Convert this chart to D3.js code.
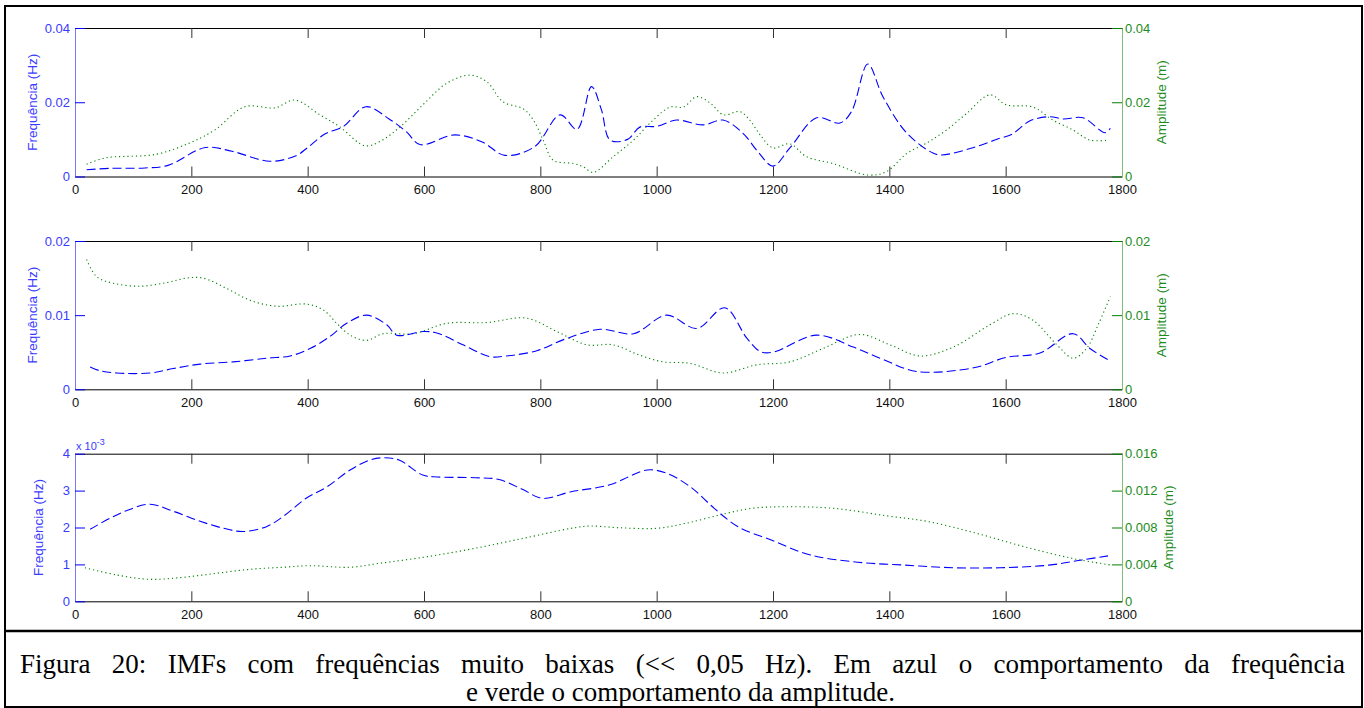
<!DOCTYPE html>
<html>
<head>
<meta charset="utf-8">
<script src="https://d3js.org/d3.v7.min.js"></script>
<style>
  body { margin: 0; background: #fff; }
  svg { display: block; }
  .tick text { font-family: "Liberation Sans", Arial, sans-serif; font-size: 13px; }
</style>
</head>
<body>
<svg id="imf-chart"></svg>
<script>
// x axis (time, s)
const X_TICKS = [0, 200, 400, 600, 800, 1000, 1200, 1400, 1600, 1800];

// IMF 1 - frequency (Hz) and amplitude (m)
const imf1FreqT = [20, 60, 120, 160, 224, 270, 335, 380, 400, 430, 461, 500, 540, 570, 593, 653, 700, 739, 790, 834, 863, 888, 905, 920, 950, 971, 1000, 1034, 1080, 1114, 1148, 1175, 1200, 1229, 1275, 1315, 1335, 1363, 1389, 1430, 1475, 1490, 1545, 1590, 1610, 1642, 1676, 1699, 1733, 1771, 1780];
const imf1FreqV = [0.0018, 0.0022, 0.0023, 0.003, 0.0078, 0.0068, 0.0041, 0.0056, 0.0078, 0.0115, 0.0134, 0.0188, 0.0155, 0.012, 0.0086, 0.0112, 0.0093, 0.0057, 0.008, 0.0166, 0.0127, 0.0242, 0.018, 0.0098, 0.01, 0.0133, 0.0135, 0.0152, 0.0139, 0.0152, 0.0117, 0.0065, 0.0028, 0.0077, 0.0158, 0.0144, 0.0175, 0.0303, 0.0215, 0.0117, 0.0063, 0.0058, 0.0078, 0.0103, 0.0113, 0.015, 0.0161, 0.0155, 0.0158, 0.0118, 0.013];
const imf1AmpT = [20, 52, 140, 198, 240, 292, 344, 378, 421, 455, 498, 524, 559, 598, 639, 679, 708, 736, 771, 788, 805, 822, 857, 874, 891, 925, 960, 994, 1023, 1046, 1069, 1092, 1115, 1143, 1160, 1178, 1200, 1229, 1258, 1303, 1363, 1395, 1430, 1464, 1498, 1533, 1573, 1601, 1647, 1681, 1716, 1745, 1776];
const imf1AmpV = [0.0033, 0.005, 0.006, 0.0091, 0.0125, 0.0188, 0.0185, 0.0206, 0.0166, 0.0134, 0.0083, 0.0094, 0.0134, 0.0193, 0.0251, 0.0273, 0.0255, 0.0201, 0.0182, 0.0152, 0.0098, 0.0044, 0.0035, 0.0026, 0.0011, 0.0053, 0.0098, 0.0152, 0.0187, 0.0187, 0.0215, 0.0198, 0.0166, 0.0175, 0.0152, 0.0112, 0.0077, 0.0088, 0.0053, 0.0035, 0.0004, 0.0013, 0.0062, 0.009, 0.0125, 0.017, 0.022, 0.0193, 0.0187, 0.0152, 0.0125, 0.0098, 0.0098];
const imf1FreqTicks = [0, 0.02, 0.04];
const imf1FreqLabels = ["0", "0.02", "0.04"];
const imf1AmpTicks = [0, 0.02, 0.04];
const imf1AmpLabels = ["0", "0.02", "0.04"];

// IMF 2
const imf2FreqT = [26, 43, 72, 129, 169, 215, 272, 330, 370, 404, 438, 467, 501, 536, 553, 599, 622, 667, 713, 742, 794, 840, 903, 960, 1017, 1069, 1117, 1155, 1178, 1200, 1275, 1338, 1390, 1447, 1545, 1601, 1659, 1716, 1745, 1780];
const imf2FreqV = [0.003, 0.0025, 0.0022, 0.0022, 0.0028, 0.0034, 0.0037, 0.0042, 0.0045, 0.0055, 0.0071, 0.0089, 0.01, 0.0087, 0.0073, 0.0078, 0.0076, 0.006, 0.0044, 0.0045, 0.0052, 0.0067, 0.0081, 0.0075, 0.01, 0.0082, 0.011, 0.0069, 0.0051, 0.005, 0.0073, 0.0057, 0.004, 0.0024, 0.0029, 0.0043, 0.0049, 0.0075, 0.0055, 0.0038];
const imf2AmpT = [20, 37, 66, 112, 158, 192, 220, 261, 301, 347, 398, 427, 450, 473, 501, 530, 582, 639, 708, 776, 828, 880, 925, 971, 1011, 1057, 1114, 1172, 1229, 1286, 1349, 1401, 1453, 1510, 1573, 1613, 1647, 1688, 1716, 1739, 1759, 1780];
const imf2AmpV = [0.0175, 0.0152, 0.0143, 0.0139, 0.0144, 0.015, 0.015, 0.0136, 0.012, 0.0112, 0.0115, 0.0107, 0.0089, 0.0073, 0.0066, 0.0075, 0.0075, 0.0089, 0.009, 0.0096, 0.0078, 0.006, 0.006, 0.0046, 0.0037, 0.0035, 0.0022, 0.0033, 0.0037, 0.0055, 0.0074, 0.006, 0.0045, 0.0057, 0.0087, 0.0102, 0.0093, 0.006, 0.0042, 0.0055, 0.0087, 0.0125];
const imf2FreqTicks = [0, 0.01, 0.02];
const imf2FreqLabels = ["0", "0.01", "0.02"];
const imf2AmpTicks = [0, 0.01, 0.02];
const imf2AmpLabels = ["0", "0.01", "0.02"];

// IMF 3 (frequency axis shown as x 10^-3)
const imf3FreqT = [26, 60, 89, 129, 169, 215, 255, 289, 330, 358, 398, 433, 473, 507, 530, 557, 598, 623, 688, 729, 771, 803, 853, 918, 984, 1017, 1058, 1099, 1140, 1197, 1263, 1345, 1427, 1509, 1591, 1674, 1731, 1776];
const imf3FreqV = [0.00195, 0.00225, 0.00246, 0.00263, 0.00244, 0.00217, 0.00198, 0.00189, 0.00203, 0.0023, 0.0028, 0.0031, 0.00356, 0.00383, 0.00389, 0.00383, 0.00342, 0.00337, 0.00335, 0.0033, 0.00302, 0.00279, 0.00297, 0.00315, 0.00356, 0.00347, 0.0031, 0.00252, 0.00202, 0.00166, 0.00126, 0.00106, 0.00098, 0.00091, 0.00091, 0.00098, 0.00112, 0.00123];
const imf3AmpT = [17, 72, 129, 186, 243, 301, 358, 404, 473, 524, 606, 688, 771, 853, 885, 934, 1000, 1050, 1115, 1164, 1221, 1304, 1394, 1468, 1550, 1632, 1714, 1780];
const imf3AmpV = [0.00364, 0.00285, 0.00238, 0.0026, 0.00303, 0.00347, 0.00369, 0.00386, 0.00369, 0.00412, 0.00484, 0.00575, 0.00683, 0.00791, 0.00816, 0.00798, 0.00791, 0.00845, 0.00946, 0.01008, 0.01025, 0.01008, 0.00928, 0.00863, 0.00737, 0.00592, 0.00466, 0.00394];
const imf3FreqTicks = [0, 0.001, 0.002, 0.003, 0.004];
const imf3FreqLabels = ["0", "1", "2", "3", "4"];
const imf3AmpTicks = [0, 0.004, 0.008, 0.012, 0.016];
const imf3AmpLabels = ["0", "0.004", "0.008", "0.012", "0.016"];

const CAPTION = [
    "Figura 20: IMFs com frequências muito baixas (<< 0,05 Hz). Em azul o comportamento da frequência",
    "e verde o comportamento da amplitude."
];

const WIDTH = 1364, HEIGHT = 708;
const LEFT = 75, RIGHT = 1122;
const BLUE = "#0000ff", GREEN = "#008000";
const FONT = '"Liberation Sans", Arial, sans-serif';

const panels = [
    { top: 28, bottom: 176.5, freq: d3.zip(imf1FreqT, imf1FreqV), amp: d3.zip(imf1AmpT, imf1AmpV),
      freqTicks: imf1FreqTicks, freqLabels: imf1FreqLabels, ampTicks: imf1AmpTicks, ampLabels: imf1AmpLabels,
      leftLabelX: 32, rightLabelX: 1161 },
    { top: 241, bottom: 389.3, freq: d3.zip(imf2FreqT, imf2FreqV), amp: d3.zip(imf2AmpT, imf2AmpV),
      freqTicks: imf2FreqTicks, freqLabels: imf2FreqLabels, ampTicks: imf2AmpTicks, ampLabels: imf2AmpLabels,
      leftLabelX: 32, rightLabelX: 1161 },
    { top: 453.7, bottom: 601.3, freq: d3.zip(imf3FreqT, imf3FreqV), amp: d3.zip(imf3AmpT, imf3AmpV),
      freqTicks: imf3FreqTicks, freqLabels: imf3FreqLabels, ampTicks: imf3AmpTicks, ampLabels: imf3AmpLabels,
      leftLabelX: 38, rightLabelX: 1168, exponent: true }
];

const svg = d3.select("#imf-chart")
    .attr("width", WIDTH)
    .attr("height", HEIGHT);

// outer frame + caption separator
svg.append("rect")
    .attr("x", 5).attr("y", 6)
    .attr("width", 1357).attr("height", 701)
    .attr("fill", "none")
    .attr("stroke", "#000")
    .attr("stroke-width", 2);
svg.append("line")
    .attr("x1", 5).attr("x2", 1362)
    .attr("y1", 631).attr("y2", 631)
    .attr("stroke", "#000")
    .attr("stroke-width", 2.5);

const xScale = d3.scaleLinear()
    .domain([0, 1800])
    .range([LEFT, RIGHT]);

panels.forEach((p) => {
    const g = svg.append("g");
    const midY = (p.top + p.bottom) / 2;

    const yFreq = d3.scaleLinear()
        .domain([0, d3.max(p.freqTicks)])
        .range([p.bottom, p.top]);
    const yAmp = d3.scaleLinear()
        .domain([0, d3.max(p.ampTicks)])
        .range([p.bottom, p.top]);

    // top edge with inward ticks
    g.append("g")
        .attr("transform", `translate(0, ${p.top})`)
        .style("color", "#000")
        .call(d3.axisTop(xScale).tickValues(X_TICKS).tickSizeInner(-10).tickSizeOuter(0).tickFormat(""))
        .call(a => a.selectAll(".tick line").attr("stroke", "#333"));

    // bottom x axis
    g.append("g")
        .attr("transform", `translate(0, ${p.bottom})`)
        .style("color", "#000")
        .call(d3.axisBottom(xScale).tickValues(X_TICKS).tickSizeInner(-10).tickSizeOuter(0).tickPadding(8).tickFormat(d3.format("d")))
        .call(a => a.selectAll(".tick line").attr("stroke", "#333"))
        .call(a => a.selectAll(".tick text").attr("fill", "#111"));

    // left axis - frequency (blue)
    g.append("g")
        .attr("transform", `translate(${LEFT}, 0)`)
        .style("color", BLUE)
        .call(d3.axisLeft(yFreq).tickValues(p.freqTicks).tickSizeInner(-10).tickSizeOuter(0).tickPadding(5)
            .tickFormat((d, i) => p.freqLabels[i]))
        .call(a => a.select(".domain").attr("stroke", "#7878ff"))
        .call(a => a.selectAll(".tick text").attr("fill", "#3a3aff"));

    // right axis - amplitude (green)
    g.append("g")
        .attr("transform", `translate(${RIGHT}, 0)`)
        .style("color", GREEN)
        .call(d3.axisRight(yAmp).tickValues(p.ampTicks).tickSizeInner(-10).tickSizeOuter(0).tickPadding(3)
            .tickFormat((d, i) => p.ampLabels[i]))
        .call(a => a.select(".domain").attr("stroke", "#7cbf7c"))
        .call(a => a.selectAll(".tick text").attr("fill", "#1c8c1c"));

    // axis titles
    g.append("text")
        .attr("transform", "rotate(-90)")
        .attr("x", -midY)
        .attr("y", p.leftLabelX)
        .attr("dy", "0.35em")
        .attr("text-anchor", "middle")
        .attr("font-family", FONT)
        .attr("font-size", 13.5)
        .attr("fill", "#3a3aff")
        .text("Frequência (Hz)");
    g.append("text")
        .attr("transform", "rotate(-90)")
        .attr("x", -midY)
        .attr("y", p.rightLabelX)
        .attr("dy", "0.35em")
        .attr("text-anchor", "middle")
        .attr("font-family", FONT)
        .attr("font-size", 13.5)
        .attr("fill", "#1c8c1c")
        .text("Amplitude (m)");

    if (p.exponent) {
        const ex = g.append("text")
            .attr("x", LEFT + 1)
            .attr("y", p.top - 4)
            .attr("font-family", FONT)
            .attr("font-size", 11)
            .attr("fill", "#3a3aff");
        ex.append("tspan").text("x 10");
        ex.append("tspan").attr("dy", -5).attr("font-size", 9).text("-3");
    }

    // curves
    const freqLine = d3.line()
        .x(d => xScale(d[0]))
        .y(d => yFreq(d[1]))
        .curve(d3.curveCatmullRom.alpha(0.5));
    const ampLine = d3.line()
        .x(d => xScale(d[0]))
        .y(d => yAmp(d[1]))
        .curve(d3.curveCatmullRom.alpha(0.5));

    g.append("path")
        .datum(p.amp)
        .attr("d", ampLine)
        .attr("fill", "none")
        .attr("stroke", GREEN)
        .attr("stroke-width", 1.1)
        .attr("stroke-dasharray", "1.2,3");
    g.append("path")
        .datum(p.freq)
        .attr("d", freqLine)
        .attr("fill", "none")
        .attr("stroke", BLUE)
        .attr("stroke-width", 1.1)
        .attr("stroke-dasharray", "9,4");
});

// caption - first line is justified (wider word gaps), last line centred
const CAPTION_WIDTH = 1325;
svg.selectAll(".caption")
    .data(CAPTION)
    .enter()
    .append("text")
        .attr("class", "caption")
        .attr("x", (d, i) => i === 0 ? 682.5 : 680.5)
        .attr("y", (d, i) => 673 + i * 28)
        .attr("text-anchor", "middle")
        .attr("font-family", '"Liberation Serif", "Times New Roman", serif')
        .attr("font-size", 27)
        .attr("fill", "#000")
        .text(d => d)
        .each(function (d, i) {
            if (i > 0) return;
            const natural = this.getComputedTextLength();
            const gaps = d.split(" ").length - 1;
            d3.select(this).attr("word-spacing", Math.max(0, (CAPTION_WIDTH - natural) / gaps));
        });
</script>
</body>
</html>
